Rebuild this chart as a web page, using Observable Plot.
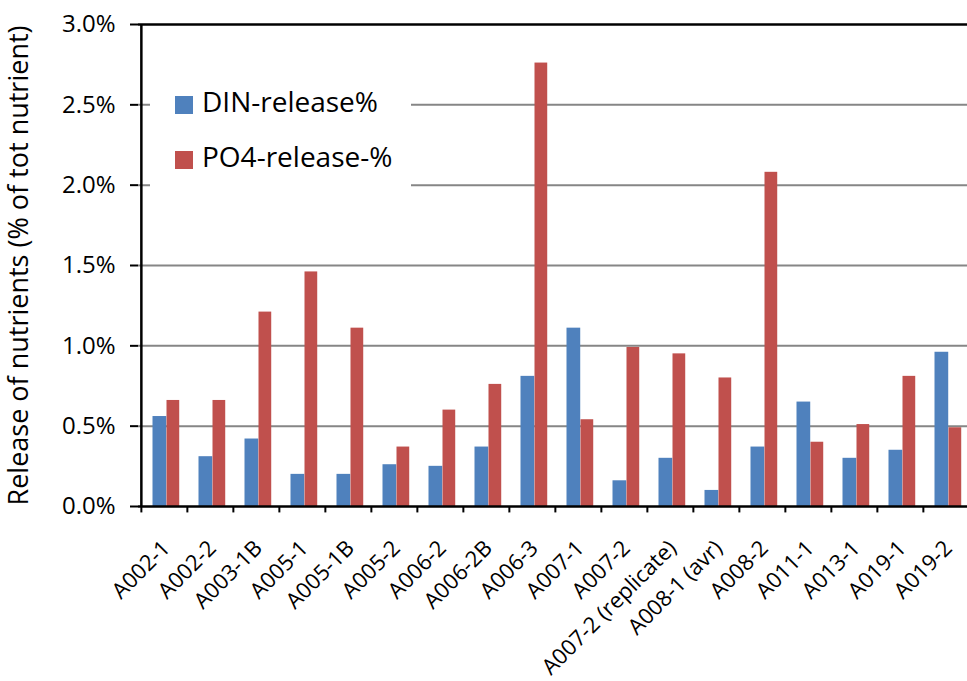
<!DOCTYPE html>
<html>
<head>
<meta charset="utf-8">
<script src="https://cdn.jsdelivr.net/npm/d3@7"></script>
<script src="https://cdn.jsdelivr.net/npm/@observablehq/plot@0.6"></script>
<style>
  body { margin: 0; background: #fff; overflow: hidden; }
  #wrap { position: relative; width: 967px; height: 681px; font-family: "Open Sans", sans-serif; }
  #legend { position: absolute; left: 150px; top: 72px; width: 261px; height: 124px; background: #fff; font-size: 28px; color: #000; }
  .item { position: absolute; left: 25px; height: 30px; line-height: 30px; white-space: nowrap; }
  .sw { position: absolute; left: 0; top: 6px; width: 18px; height: 18px; }
  .lbl { position: absolute; left: 27px; top: -4px; }
</style>
</head>
<body>
<div id="wrap">
  <div id="chart"></div>
  <div id="legend">
    <div class="item" style="top:18px"><span class="sw" style="background:#4F81BD"></span><span class="lbl">DIN-release%</span></div>
    <div class="item" style="top:73px"><span class="sw" style="background:#C0504D"></span><span class="lbl">PO4-release-%</span></div>
  </div>
</div>
<script>
// Samples (categories)
const samples = ["A002-1","A002-2","A003-1B","A005-1","A005-1B","A005-2","A006-2","A006-2B","A006-3","A007-1","A007-2","A007-2 (replicate)","A008-1 (avr)","A008-2","A011-1","A013-1","A019-1","A019-2"];
// DIN release, % of total nutrient
const dinRelease = [0.56,0.31,0.42,0.20,0.20,0.26,0.25,0.37,0.81,1.11,0.16,0.30,0.10,0.37,0.65,0.30,0.35,0.96];
// PO4 release, % of total nutrient
const po4Release = [0.66,0.66,1.21,1.46,1.11,0.37,0.60,0.76,2.76,0.54,0.99,0.95,0.80,2.08,0.40,0.51,0.81,0.49];
// Y tick values (%)
const yTicks = [0,0.5,1.0,1.5,2.0,2.5,3.0];
const gridTicks = [0.5,1.0,1.5,2.0,2.5];
const yLabel = "Release of nutrients (% of tot nutrient)";

const rows = samples.map((s, i) => ({sample: s, din: dinRelease[i], po4: po4Release[i]}));

const W = 967, H = 681;
const xRange = [138.5, 971.5];
const step = (xRange[1] - xRange[0]) / samples.length;

const chart = Plot.plot({
  width: W,
  height: H,
  marginLeft: 138,
  marginRight: 0,
  marginTop: 24,
  marginBottom: 175,
  style: {fontFamily: "Open Sans, sans-serif", color: "#000", background: "#fff", overflow: "hidden"},
  x: {domain: samples, range: xRange, padding: 0},
  y: {domain: [0, 3]},
  marks: [
    Plot.ruleY(gridTicks, {stroke: "#868686", strokeWidth: 2}),
    Plot.barY(rows, {x: "sample", y: "din", fill: "#4F81BD", insetLeft: 11.5, insetRight: step - 25.5}),
    Plot.barY(rows, {x: "sample", y: "po4", fill: "#C0504D", insetLeft: 25.5, insetRight: step - 38.5}),
    Plot.ruleY([0, 3], {stroke: "#000", strokeWidth: 2.5}),
    Plot.ruleX([samples[0]], {x: d => d, dx: -step / 2, y1: 0, y2: 3, stroke: "#000", strokeWidth: 2.5}),
    Plot.ruleX(samples, {x: d => d, dx: -step / 2, y1: 0, y2: -0.04, stroke: "#000", strokeWidth: 2}),
    Plot.axisY({ticks: yTicks, tickFormat: d => d.toFixed(1) + "%", tickSize: 8, tickPadding: 15, fontSize: 24,
      label: null, strokeWidth: 2}),
    Plot.axisY({ticks: [], label: yLabel, labelAnchor: "center", labelArrow: "none", labelOffset: 130, fontSize: 27}),
    Plot.axisX({tickRotate: -45, tickSize: 0, tickPadding: 38, dx: 2, fontSize: 22, label: null})
  ]
});
document.getElementById("chart").appendChild(chart);
</script>
</body>
</html>
